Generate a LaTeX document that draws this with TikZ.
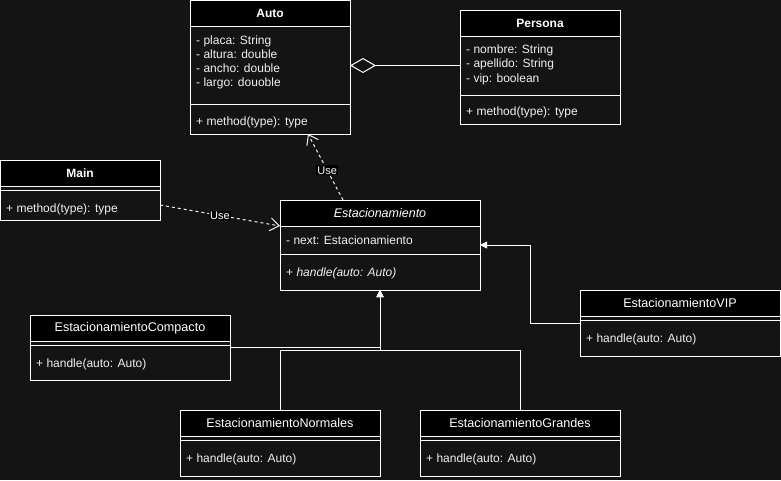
\documentclass[tikz,border=0pt]{standalone}
\usepackage{fontspec}
\setmainfont{Liberation Sans}
\usepackage{tikz}
\usetikzlibrary{arrows.meta, positioning, calc}

\definecolor{bgdark}{RGB}{20,20,20}
\definecolor{fgtext}{RGB}{240,240,240}

\begin{document}
\begin{tikzpicture}[
        x=1pt, y=-1pt,
        head/.style={
            draw=white,
            fill=black,
            line width=1pt,
            text=white,
            anchor=north west,
            inner sep=0pt,
            outer sep=0pt,
            minimum height=26pt,
            font=\fontsize{12.6}{14}\selectfont
        },
        sect/.style={
            draw=white,
            line width=1pt,
            anchor=north west,
            inner sep=0pt,
            outer sep=0pt
        },
        mem/.style={
            anchor=base west,
            inner sep=0pt,
            text=fgtext,
            font=\fontsize{12}{14}\selectfont
        },
        usage/.style={
            draw=fgtext,
            line width=1pt,
            dash pattern=on 3pt off 3pt,
            -{Straight Barb[length=9pt,width=13pt]}
        },
        usetag/.style={
            fill=black,
            text=white,
            inner sep=1pt,
            font=\fontsize{11}{13}\selectfont
        },
        gen/.style={
            draw=white,
            line width=1pt,
            -{Triangle[length=7pt,width=7pt]}
        },
        aggr/.style={
            draw=white,
            line width=1pt,
            -{Diamond[open,length=26pt,width=15pt]}
        }
    ]

    \fill[bgdark] (0,0) rectangle (781,480);
    \useasboundingbox (0,0) rectangle (781,480);

    % Auto
    \node[head, minimum width=160pt, font=\fontsize{12}{14}\selectfont\bfseries] (autoH) at (190,0) {Auto};
    \node[sect, minimum width=160pt, minimum height=78pt] (autoA) at (autoH.south west) {};
    \node[sect, minimum width=160pt, minimum height=30pt] (autoM) at (autoA.south west) {};
    \node[mem] (autoA1) at ($(autoA.north west)+(6,18)$) {- placa: String};
    \node[mem] (autoA2) at ($(autoA.north west)+(6,32)$) {- altura: double};
    \node[mem] (autoA3) at ($(autoA.north west)+(6,46)$) {- ancho: double};
    \node[mem] (autoA4) at ($(autoA.north west)+(6,60)$) {- largo: douoble};
    \node[mem] (autoM1) at ($(autoM.north west)+(6,21)$) {+ method(type): type};

    % Persona
    \node[head, minimum width=160pt, font=\fontsize{12}{14}\selectfont\bfseries] (persH) at (460,10) {Persona};
    \node[sect, minimum width=160pt, minimum height=59pt] (persA) at (persH.south west) {};
    \node[sect, minimum width=160pt, minimum height=29pt] (persM) at (persA.south west) {};
    \node[mem] (persA1) at ($(persA.north west)+(6,17)$) {- nombre: String};
    \node[mem] (persA2) at ($(persA.north west)+(6,31)$) {- apellido: String};
    \node[mem] (persA3) at ($(persA.north west)+(6,46)$) {- vip: boolean};
    \node[mem] (persM1) at ($(persM.north west)+(6,20)$) {+ method(type): type};

    % Main
    \node[head, minimum width=160pt, font=\fontsize{12}{14}\selectfont\bfseries] (mainH) at (0,160) {Main};
    \node[sect, minimum width=160pt, minimum height=4pt] (mainG) at (mainH.south west) {};
    \node[sect, minimum width=160pt, minimum height=30pt] (mainM) at (mainG.south west) {};
    \node[mem] (mainM1) at ($(mainM.north west)+(6,22)$) {+ method(type): type};

    % Estacionamiento
    \node[head, minimum width=200pt, font=\fontsize{12.5}{14}\selectfont\itshape] (estH) at (280,200) {Estacionamiento};
    \node[sect, minimum width=200pt, minimum height=28pt] (estA) at (estH.south west) {};
    \node[sect, minimum width=200pt, minimum height=36pt] (estM) at (estA.south west) {};
    \node[mem] (estA1) at ($(estA.north west)+(6,18)$) {- next: Estacionamiento};
    \node[mem] (estM1) at ($(estM.north west)+(6,22)$) {+ \textit{handle(auto: Auto)}};

    % EstacionamientoCompacto
    \node[head, minimum width=200pt] (compH) at (30,315) {EstacionamientoCompacto};
    \node[sect, minimum width=200pt, minimum height=4pt] (compG) at (compH.south west) {};
    \node[sect, minimum width=200pt, minimum height=35pt] (compM) at (compG.south west) {};
    \node[mem] (compM1) at ($(compM.north west)+(6,22)$) {+ handle(auto: Auto)};

    % EstacionamientoVIP
    \node[head, minimum width=200pt] (vipH) at (580,290) {EstacionamientoVIP};
    \node[sect, minimum width=200pt, minimum height=4pt] (vipG) at (vipH.south west) {};
    \node[sect, minimum width=200pt, minimum height=36pt] (vipM) at (vipG.south west) {};
    \node[mem] (vipM1) at ($(vipM.north west)+(6,22)$) {+ handle(auto: Auto)};

    % EstacionamientoNormales
    \node[head, minimum width=200pt] (normH) at (180,410) {EstacionamientoNormales};
    \node[sect, minimum width=200pt, minimum height=4pt] (normG) at (normH.south west) {};
    \node[sect, minimum width=200pt, minimum height=36pt] (normM) at (normG.south west) {};
    \node[mem] (normM1) at ($(normM.north west)+(6,22)$) {+ handle(auto: Auto)};

    % EstacionamientoGrandes
    \node[head, minimum width=200pt] (grandH) at (420,410) {EstacionamientoGrandes};
    \node[sect, minimum width=200pt, minimum height=4pt] (grandG) at (grandH.south west) {};
    \node[sect, minimum width=200pt, minimum height=36pt] (grandM) at (grandG.south west) {};
    \node[mem] (grandM1) at ($(grandM.north west)+(6,22)$) {+ handle(auto: Auto)};

    % side midpoints
    \coordinate (estC) at ($(estH.north east)!0.5!(estM.south east)$);
    \coordinate (vipC) at ($(vipH.north west)!0.5!(vipM.south west)$);
    \coordinate (compC) at ($(compH.north east)!0.5!(compM.south east)$);
    \coordinate (genJ) at ($(estM.south)+(0,60)$);

    % relations
    \draw[aggr] (persA.west) -- (persA.west -| autoA.east);
    \draw[usage] (mainM.east) -- (estH.south west) node[usetag, pos=0.5] (use1) {Use};
    \draw[usage] ($(estH.north west)+(63,0)$) -- ($(autoM.south west)+(118,0)$) node[usetag, pos=0.45] (use2) {Use};
    \draw[gen] (vipC) -- ++(-50,0) |- (estC);
    \draw[gen] (compC) -| (estM.south);
    \draw[gen] (normH.north) |- (genJ) -- (estM.south);
    \draw[gen] (grandH.north) |- (genJ) -- (estM.south);

\end{tikzpicture}
\end{document}
